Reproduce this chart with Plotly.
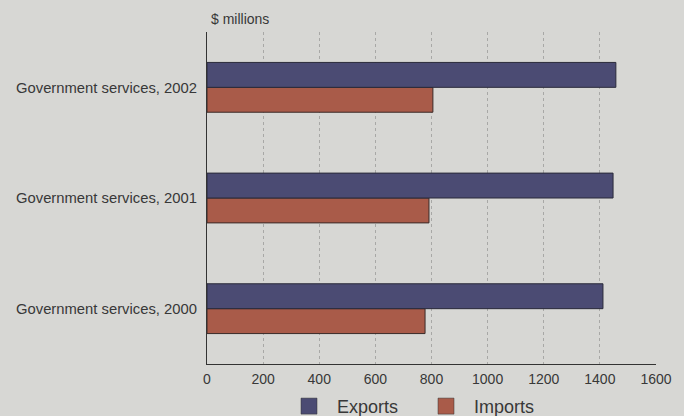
import plotly.graph_objects as go

# Government services trade, $ millions
categories = ["Government services, 2000", "Government services, 2001", "Government services, 2002"]
exports = [1411, 1447, 1457]
imports = [777, 791, 805]
x_ticks = [0, 200, 400, 600, 800, 1000, 1200, 1400, 1600]

BG = "#d7d7d4"
EXPORT_COLOR = "#4b4b73"
IMPORT_COLOR = "#a95b49"
FONT = "Liberation Sans, Arial, sans-serif"
TEXT = "#383838"

fig = go.Figure()
# Imports added first so that Exports sits above it within each group
fig.add_trace(go.Bar(
    y=categories, x=imports, orientation="h", name="Imports", showlegend=False,
    marker=dict(color=IMPORT_COLOR, line=dict(color="#3a2a28", width=1)),
))
fig.add_trace(go.Bar(
    y=categories, x=exports, orientation="h", name="Exports", showlegend=False,
    marker=dict(color=EXPORT_COLOR, line=dict(color="#2a2a3a", width=1)),
))

# Legend entries with large square swatches, one legend per series
for name, color, leg in [("Exports", EXPORT_COLOR, "legend"), ("Imports", IMPORT_COLOR, "legend2")]:
    fig.add_trace(go.Scatter(
        x=[None], y=[None], mode="markers", name=name, legend=leg,
        marker=dict(symbol="square", size=16, color=color, line=dict(color="#333333", width=0.5)),
    ))

legend_style = dict(
    orientation="h", yanchor="top", xanchor="left", y=-0.072,
    font=dict(size=18, color=TEXT, family=FONT), bgcolor="rgba(0,0,0,0)",
    itemwidth=46,
)

fig.update_layout(
    width=684, height=416,
    margin=dict(l=207, r=28, t=31.5, b=51.5, autoexpand=False),
    paper_bgcolor=BG, plot_bgcolor=BG,
    barmode="group", bargap=0.55, bargroupgap=0,
    font=dict(family=FONT, size=14, color=TEXT),
    showlegend=True,
    legend=dict(x=(281 - 207) / 449, **legend_style),
    legend2=dict(x=(418 - 207) / 449, **legend_style),
    annotations=[dict(
        text="$ millions", x=0.004, y=1 + 13.5 / 333, xref="paper", yref="paper",
        xanchor="left", yanchor="middle", showarrow=False,
        font=dict(size=14, color=TEXT),
    )],
)

fig.update_xaxes(
    range=[0, 1600], tickvals=x_ticks, ticktext=[str(v) for v in x_ticks],
    showgrid=True, gridcolor="#a8a8a6", griddash="dot", gridwidth=1,
    showline=True, linecolor="#333333", linewidth=1.2,
    ticks="", zeroline=False, tickfont=dict(size=14, color=TEXT),
    ticklabelstandoff=2,
)
fig.update_yaxes(
    range=[-0.5, 2.5], showgrid=False, showline=True, linecolor="#333333",
    linewidth=1.2, ticks="", ticklabelstandoff=6,
    tickfont=dict(size=14.8, color=TEXT),
)

fig.write_html("out.html")
